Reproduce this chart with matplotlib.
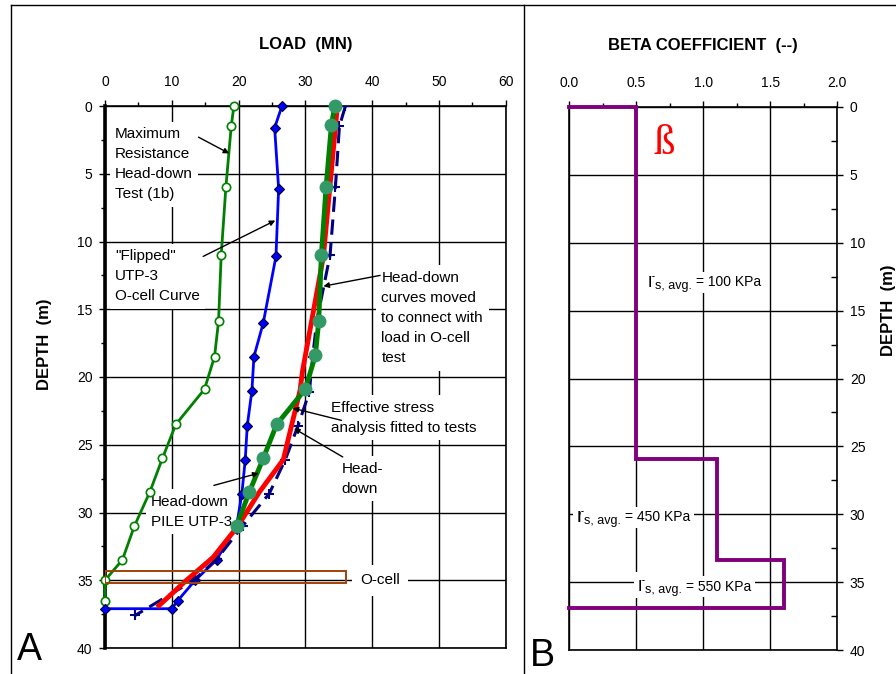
import numpy as np
import matplotlib
matplotlib.use("Agg")
import matplotlib.pyplot as plt
from matplotlib.lines import Line2D
from matplotlib.ticker import MultipleLocator, FormatStrFormatter

plt.rcParams['font.family'] = ['Liberation Sans', 'DejaVu Sans']

# Maximum resistance head-down test (1b)
max_res_load = [19.3, 18.9, 18.1, 17.4, 17.0, 16.4, 14.9, 10.6, 8.6, 6.7, 4.4, 2.6, 0.0, 0.0]
max_res_depth = [0, 1.5, 6.0, 11.0, 15.9, 18.5, 20.9, 23.5, 26.0, 28.5, 31.0, 33.5, 35.0, 36.5]

# "Flipped" UTP-3 O-cell curve
flipped_load = [26.5, 25.4, 26.0, 25.6, 23.7, 22.3, 22.0, 21.3, 21.0, 20.5, 19.7, 16.7, 13.5, 10.9, 10.0, 0.0]
flipped_depth = [0, 1.6, 6.1, 11.1, 16.0, 18.5, 21.0, 23.6, 26.1, 28.6, 31.0, 33.5, 35.0, 36.5, 37.1, 37.1]

# Head-down curves moved to connect with O-cell load
moved_load = [34.4, 33.9, 33.1, 32.4, 32.0, 31.5, 30.0, 25.7, 23.7, 21.6, 19.7]
moved_depth = [0, 1.4, 6.0, 11.0, 15.9, 18.4, 20.9, 23.5, 26.0, 28.5, 31.0]

# Effective stress analysis
eff_load = [34.8, 32.7, 29.6, 29.2, 26.7, 23.1, 19.9, 16.2, 12.2, 7.8]
eff_depth = [0, 11.1, 19.5, 21.0, 26.1, 28.5, 31.0, 33.3, 35.0, 37.0]

# Head-down pile UTP-3
hd_load = [36.0, 35.1, 34.5, 33.7, 31.7, 31.1, 30.6, 28.9, 27.0, 24.6, 20.6, 16.8, 13.3, 4.5]
hd_depth = [0, 1.5, 6.0, 11.0, 15.9, 18.5, 21.1, 23.6, 26.1, 28.6, 31.0, 33.4, 35.0, 37.6]

# O-cell position
ocell_top, ocell_bot, ocell_load = 34.3, 35.2, 36.1

# Beta layers
layer_top = [0.0, 25.9, 33.4]
layer_bot = [25.9, 33.4, 36.9]
beta = [0.5, 1.1, 1.6]
rs_labels = ['100', '450', '550']

W, H = 896, 674
fig = plt.figure(figsize=(W / 100, H / 100), dpi=100)
axA = fig.add_axes([105 / W, 1 - 648 / H, 400.7 / W, 542 / H])
axB = fig.add_axes([569 / W, 1 - 650 / H, 268.3 / W, 543 / H])

# figure frame lines
for xs, ys in [([11 / W, 11 / W], [0, 1 - 5 / H]),
               ([11 / W, 1], [1 - 5 / H, 1 - 5 / H]),
               ([524 / W, 524 / W], [0, 1 - 5 / H])]:
    fig.add_artist(Line2D(xs, ys, color='black', lw=1.0))

# ---- panel A: load vs depth
ax = axA
ax.set_xlim(0, 60)
ax.set_ylim(40, 0)
ax.xaxis.set_major_locator(MultipleLocator(10))
ax.xaxis.set_minor_locator(MultipleLocator(5))
ax.yaxis.set_major_locator(MultipleLocator(5))
ax.yaxis.set_minor_locator(MultipleLocator(2.5))
ax.xaxis.tick_top()
ax.xaxis.set_label_position('top')
ax.tick_params(which='major', length=4, width=1, labelsize=10, pad=5, colors='black')
ax.tick_params(axis='x', which='major', pad=8)
ax.tick_params(which='minor', length=3, width=1)
ax.grid(True, which='major', color='black', lw=1.0, zorder=1)
for s in ax.spines.values():
    s.set_linewidth(1.2)
ax.spines['left'].set_linewidth(2.6)
ax.set_axisbelow(True)
ax.set_xlabel('LOAD  (MN)', fontsize=12, fontweight='bold', labelpad=19)
ax.set_ylabel('DEPTH  (m)', fontsize=12, fontweight='bold')
ax.yaxis.set_label_coords(-0.132, 0.56)

ax.plot(max_res_load, max_res_depth, color='#008000', lw=2, marker='o', ms=6,
        mfc='white', mec='#008000', mew=1.2, zorder=5, clip_on=False)
ax.plot(flipped_load, flipped_depth, color='#0000ff', lw=2, marker='D', ms=5.5,
        mfc='#0000ff', mec='#000033', mew=0.8, zorder=5, clip_on=False)
ax.plot(hd_load, hd_depth, color='#000080', lw=2.2, ls=(0, (5, 2.5)), marker='+',
        ms=7, mew=1.5, zorder=6)
ax.plot(eff_load, eff_depth, color='#ff0000', lw=3.5, zorder=7, solid_capstyle='butt')
ax.plot(moved_load, moved_depth, color='#008000', lw=3.5, marker='o', ms=9,
        mfc='#339966', mec='#339966', zorder=8, clip_on=False)

ax.add_patch(plt.Rectangle((0, ocell_top), ocell_load, ocell_bot - ocell_top,
                           fill=False, ec='#a0420a', lw=1.4, zorder=9))

box = dict(facecolor='white', edgecolor='none', pad=4)
txt = dict(fontsize=11, zorder=4, linespacing=1.55)
arrow = dict(arrowstyle='-|>', color='black', lw=1.0, mutation_scale=8, shrinkA=0, shrinkB=0)

ax.text(1.5, 4.3, 'Maximum\nResistance\nHead-down\nTest (1b)', ha='left', va='center',
        bbox=box, **txt)
ax.annotate('', xy=(18.6, 3.5), xytext=(14.0, 2.3), arrowprops=arrow, zorder=10)

ax.text(1.5, 12.55, '"Flipped"\nUTP-3\nO-cell Curve', ha='left', va='center',
        bbox=box, **txt)
ax.annotate('', xy=(25.5, 8.45), xytext=(14.7, 11.1), arrowprops=arrow, zorder=10)

ax.text(41.4, 15.65, 'Head-down\ncurves moved\nto connect with\nload in O-cell\ntest',
        ha='left', va='center', bbox=box, **txt)
ax.annotate('', xy=(32.7, 13.3), xytext=(41.2, 12.5), arrowprops=arrow, zorder=10)

ax.text(33.8, 23.0, 'Effective stress\nanalysis fitted to tests', ha='left', va='center',
        bbox=box, **txt)
ax.annotate('', xy=(28.1, 22.3), xytext=(35.4, 23.2), arrowprops=arrow, zorder=10)

ax.text(35.4, 27.5, 'Head-\ndown', ha='left', va='center', bbox=box, **txt)
ax.annotate('', xy=(28.3, 23.8), xytext=(35.6, 25.9), arrowprops=arrow, zorder=10)

ax.text(6.9, 29.96, 'Head-down\nPILE UTP-3', ha='left', va='center', bbox=box, **txt)
ax.annotate('', xy=(23.0, 27.1), xytext=(16.3, 28.0), arrowprops=arrow, zorder=10)

ax.text(41.2, 35.0, 'O-cell', ha='center', va='center',
        bbox=dict(facecolor='white', edgecolor='none', pad=6), **txt)

fig.text(17 / W, 1 - 660 / H, 'A', fontsize=27, ha='left', va='baseline')

# ---- panel B: beta coefficient vs depth
ax = axB
ax.set_xlim(0, 2)
ax.set_ylim(40, 0)
ax.xaxis.set_major_locator(MultipleLocator(0.5))
ax.xaxis.set_minor_locator(MultipleLocator(0.25))
ax.xaxis.set_major_formatter(FormatStrFormatter('%.1f'))
ax.yaxis.set_major_locator(MultipleLocator(5))
ax.yaxis.set_minor_locator(MultipleLocator(2.5))
ax.xaxis.tick_top()
ax.xaxis.set_label_position('top')
ax.yaxis.tick_right()
ax.yaxis.set_label_position('right')
ax.tick_params(which='major', length=4, width=1, labelsize=10, pad=5)
ax.tick_params(axis='x', which='major', pad=8)
ax.tick_params(axis='x', which='minor', length=3, width=1)
ax.tick_params(axis='y', which='minor', length=4, width=1, direction='in')
ax.grid(True, which='major', color='black', lw=1.0)
ax.set_axisbelow(True)
for s in ax.spines.values():
    s.set_linewidth(1.2)
ax.set_xlabel('BETA COEFFICIENT  (--)', fontsize=12, fontweight='bold', labelpad=19)
ax.set_ylabel('DEPTH  (m)', fontsize=12, fontweight='bold', rotation=90)
ax.yaxis.set_label_coords(1.163, 0.626)

bx = [0.0]
by = [layer_top[0]]
for b, t, d in zip(beta, layer_top, layer_bot):
    bx += [b, b]
    by += [t, d]
bx.append(0.0)
by.append(layer_bot[-1])
ax.plot(bx, by, color='#800080', lw=2.8, zorder=6, clip_on=False, solid_joinstyle='miter')

ax.text(0.71, 2.7, 'ß', color='red', fontsize=31, family='Liberation Serif',
        ha='center', va='center', zorder=7)

# shear resistance labels: large r, small subscript, then the value
rs_pos = [(0.584, 13.24), (0.057, 30.55), (0.51, 35.65)]
wbox = dict(facecolor='white', edgecolor='none', pad=2.5)
for (x, y), v in zip(rs_pos, rs_labels):
    t1 = ax.text(x, y, 'r', fontsize=15, ha='left', va='baseline', zorder=4, bbox=wbox)
    t2 = ax.annotate('s, avg.', xy=(1.0, 0.0), xycoords=t1, xytext=(0.5, -1),
                     textcoords='offset points', fontsize=9, ha='left', va='bottom',
                     zorder=4, bbox=wbox)
    ax.annotate('= ' + v + ' KPa', xy=(1.0, 0.0), xycoords=t2, xytext=(3, 2),
                textcoords='offset points', fontsize=10, ha='left', va='bottom',
                zorder=4, bbox=wbox)

fig.text(530 / W, 1 - 666 / H, 'B', fontsize=27, ha='left', va='baseline')

fig.savefig('out.png', dpi=100, facecolor='white')
